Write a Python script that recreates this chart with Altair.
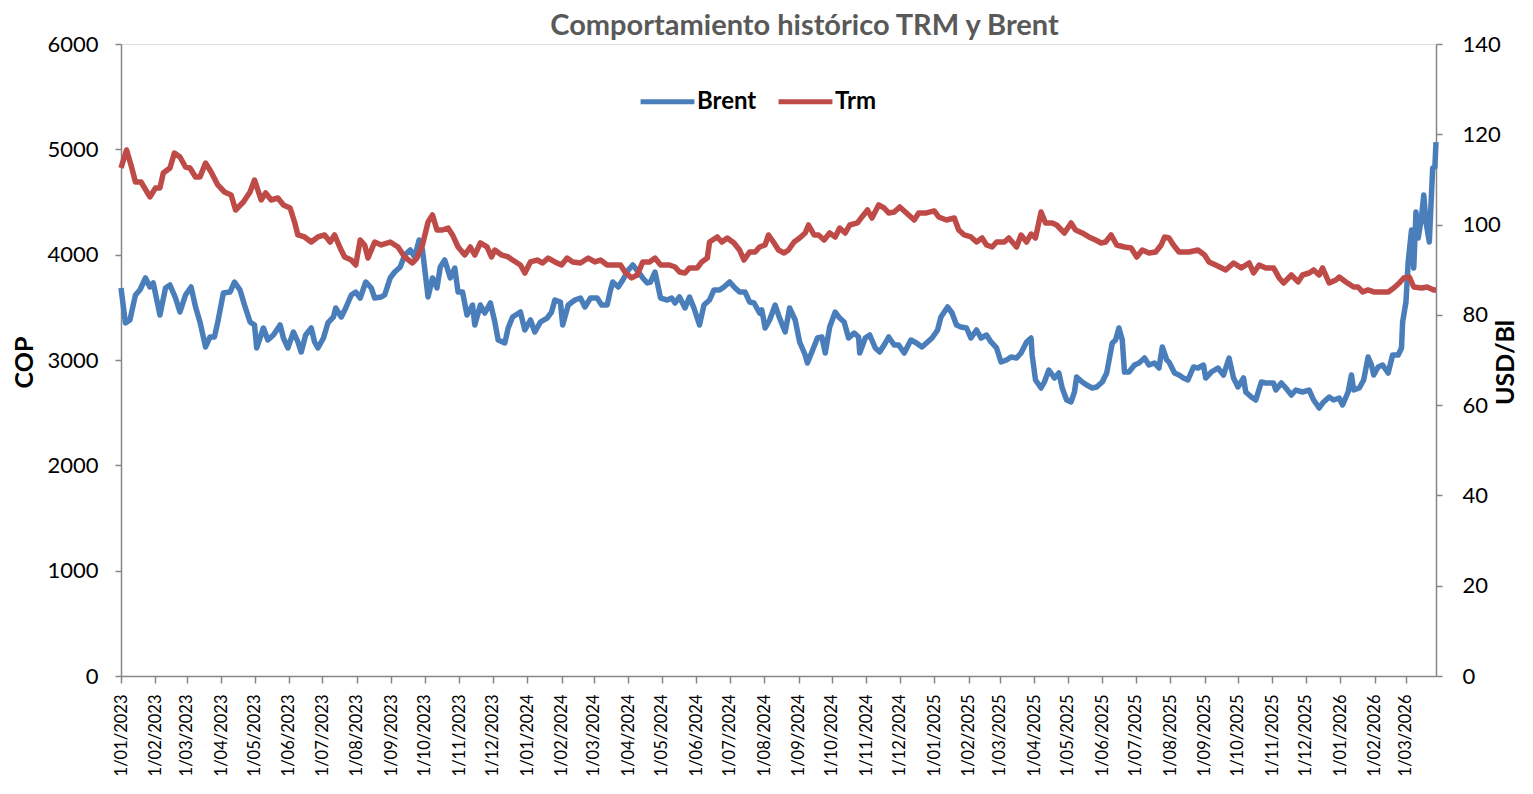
import altair as alt
import pandas as pd

# Day offsets from 2023-01-01 and values
trm_day = [0, 5, 9, 13, 18, 26, 31, 35, 38, 44, 48, 53, 58, 62, 67, 71, 76, 81, 87, 93,
           99, 103, 110, 116, 120, 126, 130, 135, 141, 146, 152, 156, 159, 165, 171, 177, 183, 188, 192, 197,
           201, 207, 211, 215, 219, 222, 228, 234, 242, 249, 255, 262, 266, 271, 276, 280, 284, 289, 294, 298,
           303, 309, 314, 318, 323, 329, 333, 336, 342, 348, 352, 359, 363, 368, 374, 379, 384, 390, 396, 401,
           406, 413, 420, 426, 431, 437, 442, 449, 453, 459, 464, 469, 475, 480, 485, 493, 498, 502, 507, 511,
           518, 522, 527, 529, 536, 540, 545, 551, 556, 560, 565, 570, 574, 579, 582, 587, 591, 596, 600, 605,
           610, 615, 618, 623, 627, 632, 637, 642, 646, 651, 655, 662, 666, 671, 675, 681, 686, 690, 695, 700,
           705, 708, 713, 717, 724, 731, 735, 742, 749, 753, 758, 764, 769, 774, 778, 783, 787, 794, 798, 805,
           809, 814, 818, 822, 827, 831, 837, 841, 848, 854, 858, 864, 870, 876, 881, 885, 890, 895, 902, 908,
           913, 918, 924, 930, 935, 938, 942, 946, 951, 960, 968, 974, 978, 984, 993, 1000, 1007, 1014, 1018, 1023,
           1029, 1036, 1041, 1045, 1052, 1058, 1062, 1068, 1072, 1077, 1080, 1086, 1092, 1095, 1101, 1108, 1112, 1116, 1121, 1126,
           1133, 1139, 1144, 1149, 1153, 1158, 1162, 1169, 1174, 1180, 1182]
trm_val = [4823, 4994, 4851, 4690, 4690, 4548, 4633, 4633, 4775, 4823, 4965, 4927, 4832, 4823, 4737, 4737, 4870, 4785, 4662, 4595,
           4567, 4424, 4500, 4595, 4709, 4519, 4586, 4519, 4538, 4472, 4443, 4310, 4187, 4168, 4120, 4168, 4187, 4120, 4187, 4063,
           3978, 3949, 3902, 4139, 4092, 3968, 4120, 4092, 4120, 4073, 3978, 3921, 3968, 4092, 4310, 4377, 4234, 4234, 4253, 4187,
           4073, 3997, 4073, 3997, 4111, 4073, 3978, 4044, 3997, 3978, 3949, 3902, 3826, 3931, 3949, 3921, 3968, 3931, 3902, 3968,
           3931, 3921, 3968, 3931, 3949, 3902, 3902, 3902, 3836, 3779, 3807, 3931, 3931, 3968, 3902, 3902, 3883, 3836, 3826, 3874,
           3874, 3931, 3968, 4120, 4168, 4120, 4158, 4111, 4044, 3949, 4025, 4025, 4073, 4092, 4187, 4111, 4044, 4016, 4044, 4120,
           4158, 4206, 4282, 4187, 4187, 4139, 4206, 4168, 4253, 4206, 4282, 4301, 4358, 4424, 4348, 4472, 4443, 4396, 4405, 4453,
           4405, 4377, 4329, 4396, 4396, 4415, 4358, 4329, 4348, 4234, 4187, 4168, 4120, 4158, 4092, 4073, 4120, 4120, 4158, 4073,
           4187, 4120, 4196, 4158, 4405, 4301, 4301, 4282, 4206, 4301, 4234, 4206, 4168, 4139, 4111, 4120, 4187, 4092, 4073, 4063,
           3978, 4044, 4016, 4025, 4092, 4168, 4158, 4092, 4025, 4025, 4044, 3997, 3931, 3902, 3855, 3921, 3874, 3921, 3826, 3902,
           3874, 3874, 3779, 3731, 3807, 3741, 3807, 3826, 3855, 3807, 3874, 3731, 3760, 3788, 3741, 3693, 3693, 3646, 3665, 3646,
           3646, 3646, 3684, 3731, 3779, 3788, 3693, 3684, 3693, 3665, 3665]

brent_day = [0, 4, 8, 13, 17, 22, 26, 29, 35, 40, 44, 49, 53, 58, 63, 67, 71, 76, 80, 84,
             87, 92, 98, 102, 107, 111, 116, 120, 122, 128, 132, 137, 143, 146, 150, 155, 159, 162, 166, 171,
             174, 177, 182, 186, 191, 193, 198, 202, 207, 211, 215, 220, 225, 228, 234, 237, 242, 246, 251, 255,
             260, 264, 268, 271, 276, 280, 284, 287, 291, 296, 300, 303, 307, 311, 316, 318, 323, 327, 332, 336,
             339, 345, 348, 352, 359, 363, 368, 372, 377, 383, 387, 390, 395, 397, 402, 408, 413, 417, 422, 428,
             432, 437, 440, 442, 447, 451, 456, 460, 465, 469, 473, 476, 480, 485, 491, 495, 498, 502, 507, 511,
             515, 520, 524, 529, 533, 538, 542, 547, 552, 556, 561, 565, 569, 574, 576, 579, 583, 588, 592, 597,
             601, 606, 610, 615, 617, 621, 626, 630, 633, 637, 642, 646, 650, 654, 659, 663, 664, 669, 673, 678,
             682, 687, 690, 695, 699, 704, 710, 715, 720, 725, 729, 734, 737, 740, 743, 747, 751, 755, 760, 764,
             769, 773, 778, 782, 787, 791, 796, 800, 805, 809, 814, 818, 819, 822, 827, 830, 834, 839, 843, 846,
             850, 854, 857, 859, 864, 868, 873, 877, 882, 886, 891, 894, 897, 900, 902, 906, 911, 915, 920, 924,
             929, 933, 936, 940, 942, 947, 951, 955, 959, 964, 968, 973, 975, 980, 986, 991, 996, 1000, 1004, 1009,
             1011, 1016, 1020, 1025, 1029, 1036, 1038, 1043, 1047, 1052, 1056, 1062, 1068, 1072, 1077, 1081, 1086, 1090, 1095, 1098,
             1103, 1106, 1108, 1113, 1117, 1121, 1124, 1126, 1130, 1134, 1139, 1143, 1148, 1151, 1152, 1155, 1157, 1160, 1162, 1164,
             1166, 1169, 1171, 1173, 1176, 1179, 1181, 1182]
brent_val = [85.95, 78.20, 78.86, 84.40, 85.51, 88.17, 86.17, 87.06, 79.97, 85.95, 86.61, 83.73, 80.63, 84.40, 86.17, 81.74, 78.42, 72.88, 75.10, 75.10,
             78.42, 84.84, 85.06, 87.28, 85.51, 82.18, 78.42, 77.75, 72.66, 77.09, 74.43, 75.54, 77.75, 74.87, 72.66, 76.20, 73.99, 71.77, 75.54, 77.09,
             73.99, 72.66, 74.87, 78.20, 79.53, 81.52, 79.53, 81.52, 84.40, 85.06, 83.73, 87.28, 85.95, 83.73, 83.96, 84.40, 88.17, 89.49, 90.60, 93.26,
             94.37, 92.82, 96.58, 94.37, 83.96, 88.17, 85.95, 90.60, 92.15, 88.17, 90.38, 85.06, 85.06, 79.97, 82.18, 77.75, 82.18, 80.41, 82.63, 78.42,
             74.43, 73.77, 77.09, 79.53, 80.63, 76.65, 78.86, 76.20, 78.42, 79.30, 80.63, 83.29, 82.85, 77.75, 82.18, 83.29, 83.73, 81.74, 83.73, 83.73,
             82.18, 82.18, 85.51, 87.28, 86.17, 87.72, 89.94, 91.04, 89.49, 88.17, 87.06, 87.28, 89.49, 83.73, 83.29, 83.73, 82.63, 83.96, 81.52, 83.96,
             81.52, 77.75, 82.18, 83.29, 85.51, 85.51, 86.17, 87.28, 85.95, 85.06, 85.06, 82.85, 82.63, 80.41, 81.08, 77.09, 78.86, 82.18, 79.30, 76.20,
             81.52, 78.86, 73.99, 71.11, 69.34, 71.77, 74.87, 75.10, 71.55, 77.31, 80.63, 79.30, 78.42, 74.87, 75.98, 75.10, 71.55, 74.87, 75.54, 72.66,
             71.77, 73.77, 75.10, 73.32, 73.32, 71.55, 74.43, 73.77, 72.88, 73.99, 74.87, 76.65, 79.53, 80.63, 81.74, 80.41, 77.75, 77.31, 77.09, 74.87,
             76.65, 74.87, 75.54, 73.99, 72.66, 69.56, 70.00, 70.66, 70.44, 71.55, 73.99, 74.87, 71.11, 65.57, 63.80, 65.13, 67.79, 66.01, 67.12, 63.80,
             61.14, 60.70, 62.91, 66.23, 65.13, 64.46, 63.80, 64.02, 65.13, 67.12, 73.77, 74.43, 77.09, 74.43, 67.34, 67.34, 68.89, 69.34, 70.44, 68.89,
             69.34, 68.23, 72.88, 70.00, 69.56, 67.12, 66.68, 66.01, 65.57, 68.45, 68.23, 68.89, 66.01, 67.34, 68.23, 66.68, 70.44, 66.01, 64.02, 66.01,
             62.91, 61.80, 61.14, 65.13, 64.91, 64.91, 63.35, 64.91, 63.80, 62.25, 63.35, 62.91, 63.35, 61.14, 59.37, 60.70, 61.80, 61.14, 61.58, 60.03,
             62.91, 66.68, 63.35, 63.80, 65.57, 70.66, 68.89, 66.68, 68.45, 68.89, 67.12, 71.11, 71.11, 72.66, 78.42, 82.85, 91.71, 98.80, 90.38, 102.79,
             97.03, 101.68, 106.55, 100.57, 96.14, 112.53, 112.75, 118.29]

series_names = ["Brent", "Trm"]
series_colors = ["#4A7EBB", "#BE4B48"]
cop_ticks = [0, 1000, 2000, 3000, 4000, 5000, 6000]
usd_ticks = [0, 20, 40, 60, 80, 100, 120, 140]

start = pd.Timestamp("2023-01-01")
trm_df = pd.DataFrame({
    "fecha": start + pd.to_timedelta(trm_day, unit="D"),
    "valor": trm_val,
    "serie": "Trm",
})
brent_df = pd.DataFrame({
    "fecha": start + pd.to_timedelta(brent_day, unit="D"),
    "valor": brent_val,
    "serie": "Brent",
})

FONT = "Lato"
AXIS_GREY = "#868686"
LINE_W = 5.5

x_enc = alt.X(
    "fecha:T",
    scale=alt.Scale(domain=[alt.DateTime(year=2023, month=1, date=1),
                            alt.DateTime(year=2026, month=3, date=28)]),
    axis=alt.Axis(
        title=None,
        format="%-d/%m/%Y",
        tickCount={"interval": "month", "step": 1},
        labelAngle=270,
        labelFontSize=16.5,
        labelFont=FONT,
        labelColor="black",
        labelPadding=11,
        labelOverlap=False,
        labelFlush=False,
        tickSize=7,
        tickColor=AXIS_GREY,
        tickWidth=1.5,
        domainColor=AXIS_GREY,
        domainWidth=1.5,
        grid=False,
    ),
)

color_enc = alt.Color(
    "serie:N",
    scale=alt.Scale(domain=series_names, range=series_colors),
    legend=alt.Legend(
        title=None,
        orient="none",
        legendX=517,
        legendY=28,
        direction="horizontal",
        symbolType="stroke",
        symbolStrokeWidth=5,
        symbolSize=2900,
        labelFont=FONT,
        labelFontSize=24,
        labelFontWeight="bold",
        labelColor="black",
        labelOffset=0,
        columnPadding=11,
    ),
)

brent_line = alt.Chart(brent_df).mark_line(strokeWidth=LINE_W, strokeJoin="round").encode(
    x=x_enc,
    y=alt.Y(
        "valor:Q",
        scale=alt.Scale(domain=[0, 140], nice=False),
        axis=alt.Axis(
            orient="right",
            values=usd_ticks,
            title="USD/Bl",
            titleFont=FONT,
            titleFontSize=25,
            titleFontWeight="bold",
            titleColor="black",
            titleAngle=270,
            titleAlign="center",
            titleBaseline="middle",
            titleX=69,
            titleY=318,
            labelFont=FONT,
            labelFontSize=22,
            labelColor="black",
            labelPadding=20,
            tickSize=6,
            tickColor=AXIS_GREY,
            tickWidth=1.5,
            domainColor=AXIS_GREY,
            domainWidth=1.5,
            grid=False,
        ),
    ),
    color=color_enc,
)

trm_line = alt.Chart(trm_df).mark_line(strokeWidth=LINE_W, strokeJoin="round").encode(
    x=x_enc,
    y=alt.Y(
        "valor:Q",
        scale=alt.Scale(domain=[0, 6000], nice=False),
        axis=alt.Axis(
            orient="left",
            values=cop_ticks,
            format="d",
            title="COP",
            titleFont=FONT,
            titleFontSize=25,
            titleFontWeight="bold",
            titleColor="black",
            titleAngle=270,
            titleAlign="center",
            titleBaseline="middle",
            titleX=-97,
            titleY=318,
            labelFont=FONT,
            labelFontSize=22,
            labelColor="black",
            labelPadding=17,
            tickSize=6,
            tickColor=AXIS_GREY,
            tickWidth=1.5,
            domainColor=AXIS_GREY,
            domainWidth=1.5,
            grid=False,
        ),
    ),
    color=color_enc,
)

chart = alt.layer(brent_line, trm_line).resolve_scale(
    y="independent"
).properties(
    width=1315,
    height=632,
    title=alt.TitleParams(
        text="Comportamiento histórico TRM  y Brent",
        font=FONT,
        fontSize=29,
        fontWeight="bold",
        color="#595959",
        anchor="middle",
        dx=26,
        dy=16,
        offset=8,
    ),
    autosize=alt.AutoSizeParams(type="none"),
    padding={"left": 113, "top": 36, "right": 89, "bottom": 104},
).configure_view(
    stroke=None
).configure(
    font=FONT
)

chart.save("out.html", embed_options={"renderer": "svg", "actions": False})
